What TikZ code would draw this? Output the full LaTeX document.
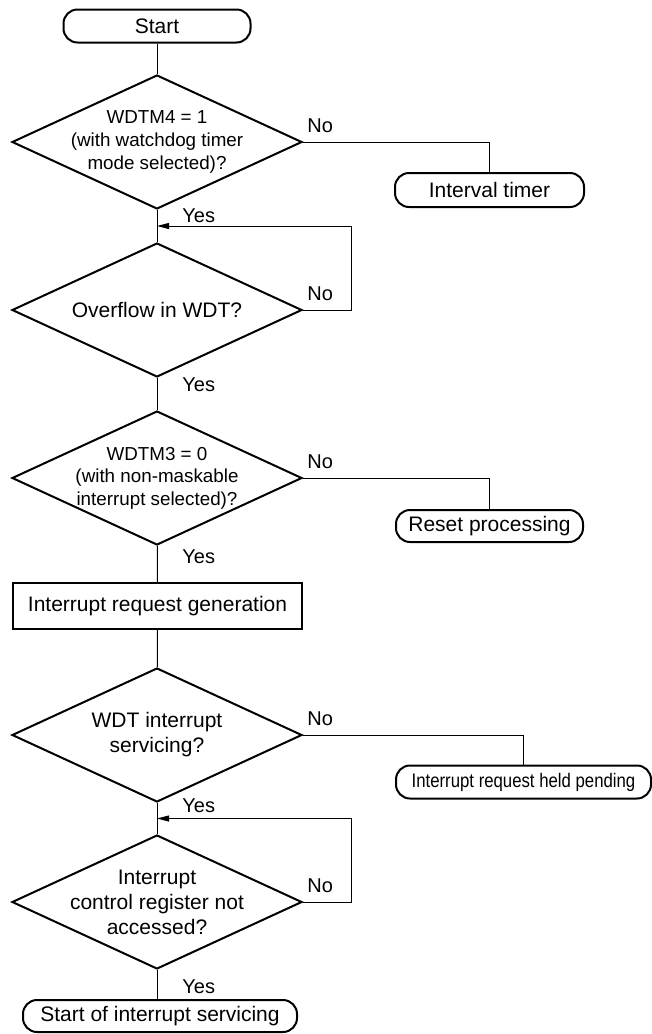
\documentclass[tikz,border=0pt]{standalone}
\usepackage{fontspec}
\usepackage{graphicx}
\setmainfont{Liberation Sans}
\usetikzlibrary{arrows.meta,positioning,calc,shapes.geometric}

\begin{document}
\begin{tikzpicture}[x=0.5pt,y=-0.5pt,
  term/.style={draw, line width=1pt, rounded corners=7pt, inner sep=0pt,
    font=\fontsize{10.5}{12.5}\selectfont},
  decide/.style={draw, diamond, line width=1pt, inner sep=0pt,
    minimum width=145pt, minimum height=67pt},
  dtext/.style={align=center, inner sep=0pt, font=\fontsize{10.5}{12.5}\selectfont},
  dsmall/.style={dtext, font=\fontsize{9.4}{11.3}\selectfont},
  proc/.style={draw, line width=1pt, inner sep=0pt, minimum width=144.5pt,
    minimum height=23pt, font=\fontsize{10.5}{12.5}\selectfont},
  txt/.style={inner sep=0pt, font=\fontsize{10}{12}\selectfont},
  flow/.style={line width=0.5pt},
  back/.style={line width=0.5pt, -{Triangle[length=6pt,width=3pt]}}]
\useasboundingbox (0,0) rectangle (652,1034);

% main column
\node[term, minimum width=93.5pt, minimum height=16.5pt] (start) at (157,26) {Start};
\node[decide] (d1) at (157,142) {};
\node[dsmall] (d1t) at (d1) {WDTM4 = 1\\(with watchdog timer\\mode selected)?};
\node[decide] (d2) at (157,310) {};
\node[dtext] (d2t) at (d2) {Overflow in WDT?};
\node[decide] (d3) at (157,478) {};
\node[dsmall] (d3t) at (d3) {WDTM3 = 0\\(with non-maskable\\interrupt selected)?};
\node[proc] (gen) at (157.5,606) {Interrupt request generation};
\node[decide] (d4) at (157,735) {};
\node[dtext] (d4t) at (d4) {WDT interrupt\\servicing?};
\node[decide] (d5) at (157,902) {};
\node[dtext] (d5t) at (d5) {Interrupt\\control register not\\accessed?};
\node[term, minimum width=137pt, minimum height=16pt] (isr) at (160,1016) {Start of interrupt servicing};

% right column
\node[term, minimum width=94.5pt, minimum height=17pt] (itimer) at (489.5,190) {Interval timer};
\node[term, minimum width=93.5pt, minimum height=16pt] (reset) at (489.5,526) {Reset processing};
\node[term, minimum width=127.5pt, minimum height=16.5pt,
  font=\fontsize{9.8}{11}\selectfont] (pending) at (523.5,782)
  {\scalebox{0.855}[1]{Interrupt request held pending}};

% connectors
\draw[flow] (start) -- (d1);
\draw[flow] (d1) -- (d2);
\draw[flow] (d2) -- (d3);
\draw[flow] (d3) -- (gen);
\draw[flow] (gen) -- (d4);
\draw[flow] (d4) -- (d5);
\draw[flow] (d5.south) -- (d5.south |- isr.north);
\draw[flow] (d1.east) -| (itimer.north);
\draw[flow] (d3.east) -| (reset.north);
\draw[flow] (d4.east) -| (pending.north);
\draw[back] (d2.east) -- ++(48,0) |- ($(d1.south)!0.5!(d2.north)$);
\draw[back] (d5.east) -- ++(48,0) |- ($(d4.south)!0.5!(d5.north)$);

% labels
\foreach \d in {d1,d2,d3,d4,d5}
  \node[txt, anchor=south west] (no-\d) at ([xshift=2pt,yshift=4.5pt]\d.east) {No};
\node[txt, anchor=north west] (yes-d1) at ([xshift=12.5pt,yshift=1pt]d1.south) {Yes};
\node[txt, anchor=north west] (yes-d2) at ([xshift=12.5pt,yshift=0.5pt]d2.south) {Yes};
\node[txt, anchor=north west] (yes-d3) at ([xshift=12.5pt,yshift=-1.5pt]d3.south) {Yes};
\node[txt, anchor=north west] (yes-d4) at ([xshift=12.5pt,yshift=2.5pt]d4.south) {Yes};
\node[txt, anchor=north west] (yes-d5) at ([xshift=12.5pt,yshift=-4.5pt]d5.south) {Yes};
\end{tikzpicture}
\end{document}
